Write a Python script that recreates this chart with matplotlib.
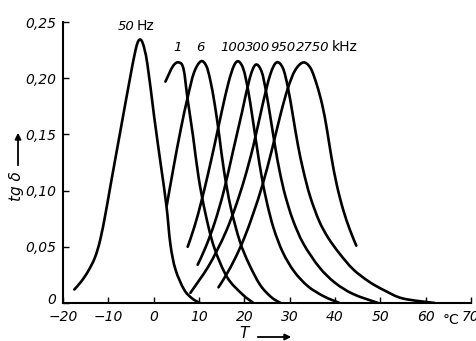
import matplotlib
matplotlib.use("Agg")
import matplotlib.pyplot as plt
import matplotlib.transforms as mtransforms
from matplotlib.path import Path
from matplotlib.patches import PathPatch, FancyArrowPatch

# ---- data ----
T_50Hz = [-17.5, -16.0, -14.5, -13.0, -11.8, -10.6, -9.5, -7.3, -5.4, -4.0, -3.2, -2.4, -1.4, 0.1, 1.5, 2.8, 3.7, 4.8, 6.7, 8.5, 10.2]
v_50Hz = [0.012, 0.019, 0.028, 0.040, 0.056, 0.080, 0.105, 0.154, 0.196, 0.225, 0.234, 0.231, 0.213, 0.166, 0.125, 0.087, 0.052, 0.030, 0.012, 0.004, 0.000]

T_1k = [2.6, 4.3, 5.6, 6.6, 7.5, 8.7, 9.9, 11.4, 13.3, 16.2, 19.5, 22.0]
v_1k = [0.197, 0.211, 0.214, 0.208, 0.181, 0.148, 0.112, 0.080, 0.050, 0.023, 0.008, 0.000]

T_6k = [2.9, 4.4, 6.0, 7.5, 8.9, 10.4, 11.6, 12.5, 13.5, 14.5, 15.5, 17.0, 19.0, 21.0, 23.5, 26.0, 28.0]
v_6k = [0.087, 0.121, 0.155, 0.183, 0.205, 0.215, 0.211, 0.198, 0.176, 0.148, 0.118, 0.085, 0.055, 0.035, 0.016, 0.005, 0.000]

T_100k = [7.5, 9.0, 10.5, 12.0, 13.5, 15.0, 16.5, 17.7, 18.7, 19.8, 20.8, 21.8, 22.8, 23.8, 25.0, 26.5, 28.5, 31.0, 34.0, 37.5, 41.0]
v_100k = [0.050, 0.068, 0.090, 0.115, 0.142, 0.170, 0.196, 0.211, 0.215, 0.208, 0.190, 0.165, 0.138, 0.113, 0.089, 0.066, 0.045, 0.028, 0.015, 0.006, 0.000]

T_300k = [9.7, 11.5, 13.5, 15.5, 17.5, 19.5, 21.2, 22.5, 23.8, 24.8, 25.8, 26.8, 27.8, 29.0, 30.7, 33.0, 36.5, 40.0, 44.0, 49.5]
v_300k = [0.034, 0.050, 0.072, 0.100, 0.135, 0.170, 0.200, 0.212, 0.206, 0.188, 0.164, 0.139, 0.117, 0.096, 0.074, 0.053, 0.032, 0.018, 0.008, 0.000]

T_950k = [8.1, 10.0, 12.0, 14.0, 16.0, 18.0, 20.0, 22.0, 24.0, 25.7, 27.1, 28.5, 29.6, 30.7, 31.8, 33.0, 34.5, 36.5, 38.5, 41.0, 44.0, 47.5, 51.0, 55.0, 62.0]
v_950k = [0.009, 0.020, 0.032, 0.047, 0.064, 0.085, 0.110, 0.140, 0.176, 0.203, 0.214, 0.209, 0.192, 0.167, 0.141, 0.118, 0.095, 0.073, 0.058, 0.044, 0.030, 0.019, 0.011, 0.004, 0.000]

T_2750k = [14.3, 16.0, 18.0, 20.0, 22.0, 24.0, 26.0, 28.0, 29.6, 31.2, 33.0, 34.6, 36.0, 37.2, 38.2, 39.2, 40.4, 41.8, 43.3, 44.7]
v_2750k = [0.014, 0.025, 0.040, 0.058, 0.080, 0.105, 0.135, 0.168, 0.191, 0.207, 0.214, 0.209, 0.194, 0.176, 0.155, 0.130, 0.105, 0.083, 0.065, 0.051]

x_ticks = [-20, -10, 0, 10, 20, 30, 40, 50, 60, 70]
x_tick_labels = ["−20", "−10", "0", "10", "20", "30", "40", "50", "60", "70"]
y_ticks = [0, 0.05, 0.10, 0.15, 0.20, 0.25]
y_tick_labels = ["0", "0,05", "0,10", "0,15", "0,20", "0,25"]

khz_labels = ["1", "6", "100", "300", "950", "2750"]
khz_label_T = [5.2, 10.2, 17.4, 23.0, 28.5, 35.0]


def smooth_path(xs, ys):
    """Catmull-Rom curve through the read points, drawn as cubic Bezier segments."""
    verts = [(xs[0], ys[0])]
    codes = [Path.MOVETO]
    n = len(xs)
    for i in range(n - 1):
        x0, y0 = (xs[i - 1], ys[i - 1]) if i > 0 else (xs[i], ys[i])
        x1, y1 = xs[i], ys[i]
        x2, y2 = xs[i + 1], ys[i + 1]
        x3, y3 = (xs[i + 2], ys[i + 2]) if i + 2 < n else (x2, y2)
        c1 = (x1 + (x2 - x0) / 6.0, y1 + (y2 - y0) / 6.0)
        c2 = (x2 - (x3 - x1) / 6.0, y2 - (y3 - y1) / 6.0)
        verts += [c1, c2, (x2, y2)]
        codes += [Path.CURVE4] * 3
    return Path(verts, codes)


# ---- figure ----
W, H = 476, 341
fig = plt.figure(figsize=(W / 100, H / 100), dpi=100)
ax = fig.add_axes([63 / W, 1 - 303 / H, (471 - 63) / W, (303 - 22) / H])

curves = [(T_50Hz, v_50Hz), (T_1k, v_1k), (T_6k, v_6k), (T_100k, v_100k),
          (T_300k, v_300k), (T_950k, v_950k), (T_2750k, v_2750k)]
for T, v in curves:
    ax.add_patch(PathPatch(smooth_path(T, v), facecolor="none", edgecolor="black",
                           lw=1.9, capstyle="round", joinstyle="round"))

ax.set_xlim(-20, 70)
ax.set_ylim(0, 0.25)
for s in ["top", "right"]:
    ax.spines[s].set_visible(False)
for s in ["left", "bottom"]:
    ax.spines[s].set_linewidth(1.5)

num_font = dict(family="Liberation Sans Narrow", style="italic", size=10)
ax.set_xticks(x_ticks)
ax.set_xticklabels(x_tick_labels, **num_font)
ax.set_yticks(y_ticks)
ax.set_yticklabels(y_tick_labels, **num_font)
ax.tick_params(direction="in", length=4, width=1.0)
ax.tick_params(axis="y", pad=5)
ax.tick_params(axis="x", pad=5)

# lift the y "0" label a little, as in the original
zero_lab = ax.yaxis.get_ticklabels()[0]
zero_lab.set_transform(zero_lab.get_transform() +
                       mtransforms.ScaledTranslation(0, 5 / 100, fig.dpi_scale_trans))

# degree label between 60 and 70
ax.text(65.5, -0.0085, "°C", ha="center", va="top", fontsize=10,
        family="Liberation Sans Narrow", clip_on=False)

# curve labels
lab_font = dict(family="Liberation Sans Narrow", style="italic", size=9.5)
ax.text(-6.0, 0.2405, "50", ha="center", va="bottom", **lab_font)
ax.text(-1.7, 0.2405, "Hz", ha="center", va="bottom", family="Liberation Sans Narrow", size=10)
for lab, t in zip(khz_labels, khz_label_T):
    ax.text(t, 0.2215, lab, ha="center", va="bottom", **lab_font)
ax.text(42.2, 0.2215, "kHz", ha="center", va="bottom", family="Liberation Sans Narrow", size=10)

# axis labels with arrows
fig.text(17 / W, 1 - 186 / H, "tg δ", rotation=90, ha="center", va="center",
         fontsize=11, style="italic", family="DejaVu Sans")
fig.add_artist(FancyArrowPatch(
    (18 / W, 1 - 168 / H), (18 / W, 1 - 130 / H), transform=fig.transFigure,
    arrowstyle="-|>", mutation_scale=9, lw=1.3, color="black"))
fig.text(244 / W, 1 - 333 / H, "T", ha="center", va="center",
         fontsize=11, style="italic", family="DejaVu Sans")
fig.add_artist(FancyArrowPatch(
    (255 / W, 1 - 337 / H), (294 / W, 1 - 337 / H), transform=fig.transFigure,
    arrowstyle="-|>", mutation_scale=9, lw=1.3, color="black"))

fig.savefig("out.png", dpi=100)
